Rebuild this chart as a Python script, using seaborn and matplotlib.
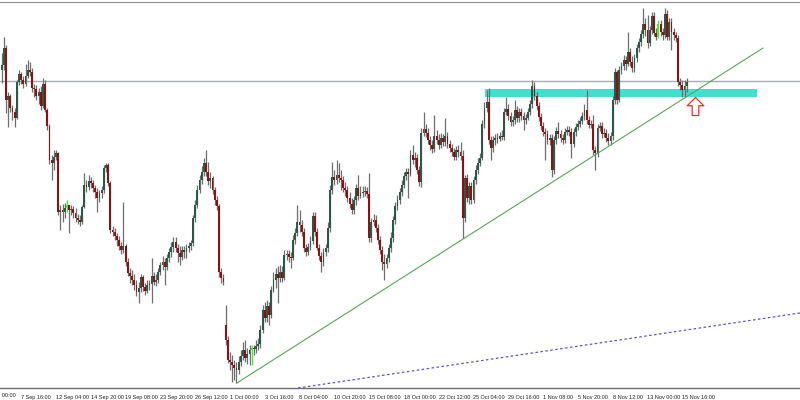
import numpy as np
import matplotlib
matplotlib.use("Agg")
import matplotlib.pyplot as plt
import matplotlib.transforms as mtransforms
from matplotlib.path import Path
import seaborn as sns

# H4 candles, price in chart points (no price scale is shown on the chart)
first_open = 330
gap_opens = {103: 75}  # weekend gap before 1 Oct
closes = [
    335, 352, 300, 304, 292, 288, 282, 318, 326, 320,
    316, 324, 330, 328, 312, 311, 304, 308, 294, 316,
    290, 274, 240, 237, 243, 247, 188, 190, 188, 192,
    195, 190, 191, 187, 182, 180, 178, 193, 215, 213,
    219, 217, 212, 208, 202, 207, 210, 232, 235, 217,
    170, 168, 164, 160, 154, 150, 154, 138, 127, 124,
    120, 115, 108, 112, 123, 113, 109, 115, 116, 124,
    118, 120, 128, 135, 138, 133, 142, 148, 153, 158,
    152, 147, 143, 150, 148, 152, 154, 157, 182, 195,
    210, 220, 228, 237, 228, 219, 222, 210, 200, 194,
    128, 122, 118, 60, 40, 38, 35, 32, 30, 38,
    44, 50, 42, 46, 50, 52, 51, 54, 56, 70,
    90, 82, 94, 85, 110, 120, 126, 122, 128, 122,
    145, 146, 143, 142, 160, 167, 178, 175, 168, 152,
    148, 153, 159, 184, 168, 152, 144, 138, 148, 152,
    172, 210, 223, 220, 225, 222, 220, 212, 210, 202,
    196, 190, 200, 212, 204, 207, 208, 209, 206, 162,
    178, 180, 172, 160, 150, 138, 136, 142, 152, 162,
    180, 194, 200, 208, 215, 224, 228, 226, 245, 240,
    242, 230, 218, 267, 271, 267, 260, 255, 251, 264,
    260, 255, 262, 258, 264, 256, 252, 248, 243, 250,
    248, 244, 182, 222, 202, 214, 200, 220, 230, 237,
    242, 276, 292, 298, 260, 252, 260, 262, 261, 264,
    263, 288, 291, 284, 278, 280, 290, 282, 288, 284,
    280, 282, 288, 296, 314, 304, 294, 283, 274, 268,
    266, 260, 262, 230, 260, 269, 266, 262, 260, 268,
    270, 268, 256, 268, 273, 276, 279, 284, 290, 280,
    275, 276, 250, 247, 272, 274, 266, 267, 262, 259,
    264, 300, 328, 300, 330, 334, 340, 336, 348, 338,
    332, 342, 352, 358, 366, 376, 370, 357, 370, 384,
    367, 363, 376, 368, 365, 386, 363, 378, 368, 365,
    362, 318, 315, 310, 314, 318,
]
highs = [
    347, 363, 355, 308, 306, 295, 292, 320, 330, 328,
    324, 336, 340, 338, 332, 316, 315, 312, 314, 322,
    320, 292, 276, 245, 250, 250, 248, 195, 196, 197,
    200, 195, 195, 194, 192, 186, 185, 195, 227, 220,
    225, 223, 220, 215, 212, 210, 214, 235, 237, 237,
    219, 174, 172, 167, 164, 158, 198, 156, 142, 132,
    130, 126, 120, 118, 126, 125, 117, 120, 120, 142,
    128, 126, 132, 138, 144, 142, 146, 152, 158, 163,
    163, 156, 154, 154, 154, 156, 158, 160, 185, 200,
    215, 225, 234, 242, 250, 238, 228, 224, 213, 204,
    196, 132, 126, 95, 64, 48, 45, 40, 38, 44,
    50, 58, 60, 52, 55, 55, 55, 60, 62, 75,
    95, 98, 100, 98, 114, 128, 132, 134, 135, 134,
    150, 150, 150, 148, 165, 172, 195, 190, 180, 172,
    156, 157, 164, 188, 188, 172, 156, 148, 152, 156,
    178, 215, 238, 230, 240, 237, 230, 224, 218, 214,
    208, 202, 204, 216, 225, 214, 214, 214, 213, 227,
    182, 186, 185, 176, 164, 154, 146, 146, 156, 168,
    184, 198, 205, 212, 220, 228, 232, 232, 250, 255,
    248, 246, 234, 272, 288, 276, 272, 264, 260, 285,
    270, 266, 267, 266, 282, 268, 260, 256, 252, 254,
    255, 258, 250, 225, 226, 218, 218, 224, 235, 242,
    247, 280, 298, 310, 312, 264, 264, 266, 267, 268,
    270, 292, 303, 296, 288, 284, 300, 294, 292, 292,
    288, 286, 292, 300, 320, 318, 308, 298, 287, 278,
    272, 270, 266, 266, 264, 273, 278, 270, 266, 272,
    274, 274, 272, 272, 277, 280, 283, 288, 296, 310,
    284, 280, 285, 254, 276, 278, 278, 272, 271, 267,
    268, 304, 332, 330, 334, 338, 345, 344, 368, 352,
    344, 346, 356, 362, 370, 392, 382, 385, 374, 388,
    388, 372, 380, 380, 372, 392, 390, 382, 382, 372,
    368, 365, 322, 320, 320, 322,
]
lows = [
    317, 330, 287, 273, 288, 280, 273, 281, 315, 316,
    312, 314, 322, 324, 308, 303, 300, 296, 290, 292,
    288, 270, 236, 220, 230, 240, 185, 170, 178, 182,
    188, 167, 185, 182, 178, 176, 174, 176, 192, 208,
    210, 212, 208, 202, 188, 198, 202, 207, 228, 214,
    167, 164, 160, 154, 150, 146, 147, 134, 124, 117,
    115, 110, 104, 97, 108, 109, 105, 107, 110, 97,
    115, 114, 117, 125, 130, 115, 130, 138, 143, 148,
    148, 138, 135, 140, 142, 142, 148, 150, 154, 178,
    192, 207, 216, 224, 224, 215, 212, 206, 195, 190,
    123, 117, 115, 55, 37, 30, 18, 20, 17, 26,
    34, 40, 38, 36, 35, 35, 45, 47, 50, 52,
    67, 78, 78, 75, 82, 108, 112, 97, 118, 118,
    120, 140, 138, 132, 140, 156, 164, 168, 164, 148,
    144, 145, 150, 156, 164, 150, 140, 128, 134, 144,
    148, 168, 206, 215, 216, 218, 210, 208, 204, 198,
    192, 186, 186, 195, 200, 202, 203, 204, 202, 158,
    158, 174, 168, 156, 146, 130, 120, 132, 138, 148,
    158, 176, 190, 196, 204, 212, 220, 202, 224, 236,
    233, 226, 214, 213, 264, 263, 256, 250, 247, 248,
    256, 251, 252, 254, 254, 252, 248, 244, 240, 240,
    243, 240, 162, 178, 198, 196, 196, 197, 216, 226,
    234, 240, 272, 288, 256, 240, 248, 255, 257, 259,
    260, 260, 285, 280, 274, 274, 276, 278, 278, 280,
    270, 276, 280, 285, 292, 300, 290, 279, 270, 264,
    240, 256, 255, 223, 226, 256, 262, 258, 256, 257,
    265, 264, 242, 253, 264, 270, 273, 276, 280, 276,
    272, 272, 245, 230, 243, 269, 262, 263, 258, 255,
    255, 260, 296, 296, 298, 326, 330, 330, 334, 334,
    328, 328, 338, 348, 354, 362, 364, 352, 354, 366,
    364, 360, 362, 364, 360, 362, 360, 360, 350, 360,
    358, 314, 310, 303, 303, 308,
]
lime_bars = [30, 115, 302]

# time axis: one label every 16 bars
tick_bars = [8, 24, 40, 56, 72, 88, 104, 120, 136, 152,
             168, 184, 200, 216, 232, 248, 264, 280, 296, 312]
tick_labels = ["7 Sep 16:00", "12 Sep 04:00", "14 Sep 20:00", "19 Sep 08:00",
               "23 Sep 20:00", "26 Sep 12:00", "1 Oct 00:00", "3 Oct 16:00",
               "8 Oct 04:00", "10 Oct 20:00", "15 Oct 08:00", "18 Oct 00:00",
               "22 Oct 12:00", "25 Oct 04:00", "29 Oct 16:00", "1 Nov 08:00",
               "5 Nov 20:00", "8 Nov 12:00", "13 Nov 00:00", "15 Nov 16:00"]
cut_tick_bar = -8
cut_tick_label = "5 Sep 00:00"

# drawn objects
level_line = 319
zone_bars = [222.3, 347.3]
zone_levels = [303, 311]
trend_bars = [108.2, 350.1]
trend_levels = [17, 352]
channel_bars = [136.3, 367.1]
channel_levels = [12, 87]
arrow_bar = 318.8
arrow_level = 294

sns.set_style("white")
label_font = ["Liberation Sans Narrow", "Liberation Sans", "DejaVu Sans"]

n = len(closes)
bars = np.arange(n)
c = np.array(closes, dtype=float)
o = np.concatenate([[first_open], c[:-1]])
for k, v in gap_opens.items():
    o[k] = v
h = np.maximum(np.array(highs, dtype=float), np.maximum(o, c))
l = np.minimum(np.array(lows, dtype=float), np.minimum(o, c))

up = c >= o
colors = np.where(up, "#2a5a45", "#8a1212").astype(object)
wick_colors = np.full(n, "#6e6e6e", dtype=object)
for b in lime_bars:
    colors[b] = "#3cf03c"
    wick_colors[b] = "#3cf03c"

fig = plt.figure(figsize=(8, 4), dpi=100)
ax = fig.add_axes([0, 0.03, 1, 0.965])

# background objects
ax.axhline(level_line, color="#a6adb4", lw=1.0, zorder=1)
ax.fill_between(zone_bars, zone_levels[0], zone_levels[1],
                color="#40e0d0", lw=0, zorder=2)

# candles
ax.vlines(bars, l, h, colors=list(wick_colors), lw=0.9, zorder=3)
body_bottom = np.minimum(o, c)
body_height = np.maximum(np.abs(c - o), 0.8)
ax.bar(bars, body_height, bottom=body_bottom, width=0.85,
       color=list(colors), edgecolor="none", zorder=4)

# trend lines
sns.lineplot(x=trend_bars, y=trend_levels, ax=ax, color="#5aa35a",
             lw=0.8, zorder=5)
sns.lineplot(x=channel_bars, y=channel_levels, ax=ax, color="#5a50d0",
             lw=0.9, linestyle=(0, (2, 2)), zorder=5)

# hollow up arrow
arrow_path = Path([(0, 0.6), (0.55, 0.05), (0.22, 0.05), (0.22, -0.6),
                   (-0.22, -0.6), (-0.22, 0.05), (-0.55, 0.05), (0, 0.6)],
                  [Path.MOVETO] + [Path.LINETO] * 6 + [Path.CLOSEPOLY])
ax.plot([arrow_bar], [arrow_level], marker=arrow_path, markersize=13,
        mfc="none", mec="#ff2a2a", mew=0.9, ls="none", zorder=6)

ax.set_xlim(-0.74, 367.1)
ax.set_ylim(12, 398)
ax.set_yticks([])
ax.set_xticks(tick_bars)
ax.set_xticklabels(tick_labels, family=label_font, fontsize=4.0)
ax.tick_params(axis="x", direction="out", length=4, width=0.8,
               color="#555555", pad=1.0, labelcolor="#222222")
shift = mtransforms.ScaledTranslation(2 / 100, 0, fig.dpi_scale_trans)
for lbl in ax.get_xticklabels():
    lbl.set_horizontalalignment("left")
    lbl.set_transform(lbl.get_transform() + shift)
ax.text(cut_tick_bar, -0.02, cut_tick_label, fontsize=4.0, family=label_font,
        color="#222222", ha="left", va="center",
        transform=mtransforms.blended_transform_factory(ax.transData, ax.transAxes) + shift,
        clip_on=False)

for side in ["left", "right"]:
    ax.spines[side].set_visible(False)
ax.spines["top"].set_color("#8c8c8c")
ax.spines["bottom"].set_color("#6e6e6e")
ax.spines["top"].set_linewidth(0.8)
ax.spines["bottom"].set_linewidth(1.0)
ax.set_xlabel("")
ax.set_ylabel("")

fig.savefig("out.png", dpi=100, facecolor="white")
